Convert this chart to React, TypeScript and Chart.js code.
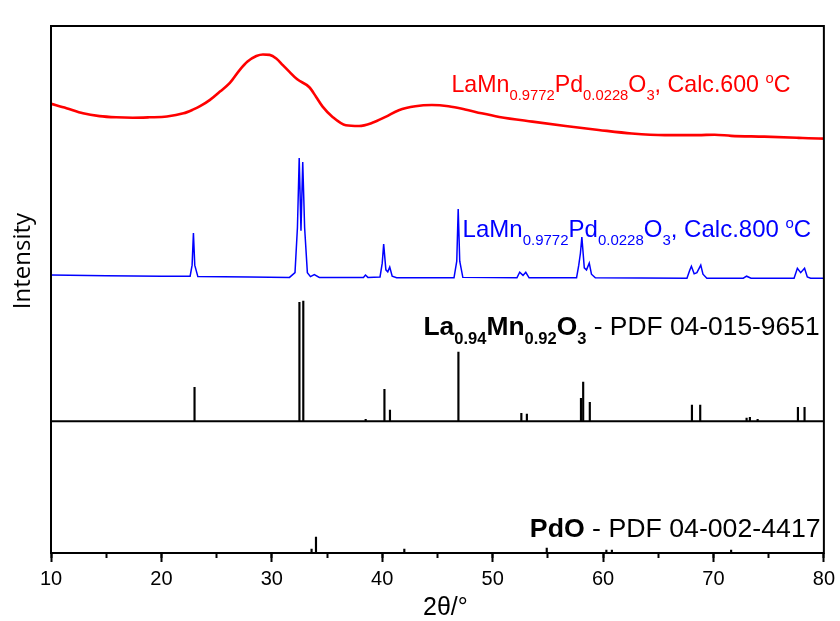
import React, { useEffect, useRef } from 'react';
import { Chart, registerables } from 'chart.js';

Chart.register(...registerables);

// ---------- data (2θ in degrees, intensity in arbitrary units) ----------
const X_MIN = 10;
const X_MAX = 80;

// LaMn0.9772Pd0.0228O3, calcined 600 °C (top panel units)
const calc600: [number, number][] = [
  [10.0, 80.3], [11.4, 79.2], [12.9, 77.9], [14.4, 77.2], [15.9, 76.9], [17.4, 76.8],
  [18.9, 76.9], [20.5, 77.1], [22.0, 77.9], [22.9, 78.9], [23.5, 79.7], [24.4, 81.3],
  [25.3, 83.4], [26.2, 85.6], [27.1, 88.9], [27.8, 91.0], [28.6, 92.4], [29.2, 92.8],
  [29.8, 92.7], [30.4, 91.8], [31.0, 90.1], [31.6, 88.4], [32.3, 86.5], [33.4, 84.5],
  [34.0, 82.1], [34.6, 79.6], [35.5, 77.0], [36.7, 74.9], [37.9, 74.7], [39.1, 75.5],
  [40.3, 77.0], [41.5, 78.7], [43.0, 79.7], [44.5, 80.0], [46.0, 79.7], [47.5, 78.9],
  [49.0, 77.9], [50.6, 77.0], [53.6, 75.8], [56.6, 74.7], [59.6, 73.7], [62.6, 72.8],
  [65.6, 72.4], [68.6, 72.4], [70.1, 72.5], [71.6, 72.2], [74.6, 72.0], [77.7, 71.7],
  [78.6, 71.6], [80.0, 71.5],
];

// LaMn0.9772Pd0.0228O3, calcined 800 °C (top panel units)
const calc800: [number, number][] = [
  [10.0, 37.0], [15.0, 36.8], [20.0, 36.7], [22.6, 36.7], [22.78, 39.5], [22.9, 47.6],
  [23.02, 39.5], [23.3, 36.6], [28.0, 36.5], [31.6, 36.4], [32.1, 37.6], [32.32, 49.0],
  [32.48, 66.6], [32.64, 48.2], [32.8, 65.6], [32.97, 49.0], [33.22, 37.6], [33.5, 36.6],
  [33.85, 37.1], [34.3, 36.4], [38.3, 36.4], [38.48, 37.0], [38.7, 36.4], [39.8, 36.5],
  [40.0, 40.0], [40.13, 44.8], [40.33, 38.3], [40.5, 37.8], [40.68, 39.0], [40.9, 36.7],
  [41.3, 36.3], [46.5, 36.3], [46.75, 40.5], [46.88, 53.7], [47.02, 40.5], [47.3, 36.4],
  [52.2, 36.3], [52.45, 37.7], [52.75, 36.9], [53.0, 37.7], [53.3, 36.3], [57.6, 36.3],
  [57.8, 39.5], [57.95, 42.5], [58.08, 46.6], [58.3, 38.8], [58.5, 38.3], [58.75, 40.0],
  [58.95, 37.2], [59.3, 36.3], [67.6, 36.2], [67.85, 38.2], [68.0, 39.2], [68.25, 37.3],
  [68.5, 37.6], [68.85, 39.5], [69.05, 37.2], [69.4, 36.2], [72.7, 36.2], [73.0, 36.7],
  [73.4, 36.2], [77.3, 36.2], [77.6, 38.7], [77.9, 37.6], [78.25, 38.7], [78.5, 36.5],
  [78.8, 36.2], [80.0, 36.2],
];

// Reference pattern La0.94Mn0.92O3 - PDF 04-015-9651 (top panel units)
const refLaMnPos = [23.0, 32.5, 32.85, 38.5, 40.2, 40.7, 46.9, 52.6, 53.1, 58.0, 58.2, 58.8, 68.05, 68.8, 73.0, 73.3, 74.0, 77.65, 78.25];
const refLaMnInt = [8.6, 30.1, 30.4, 0.5, 8.1, 2.8, 17.5, 2.0, 1.8, 5.8, 9.9, 4.8, 4.1, 4.1, 0.8, 1.0, 0.5, 3.5, 3.5];

// Reference pattern PdO - PDF 04-002-4417 (bottom panel units)
const refPdOPos = [33.6, 34.0, 42.0, 54.9, 60.3, 60.8, 71.6];
const refPdOInt = [3.0, 12.1, 3.0, 3.8, 2.3, 2.3, 2.3];

// ---------- text ----------
type Seg = { t: string; sub?: boolean; sup?: boolean; bold?: boolean };

const label600: Seg[] = [
  { t: 'LaMn' }, { t: '0.9772', sub: true }, { t: 'Pd' }, { t: '0.0228', sub: true },
  { t: 'O' }, { t: '3', sub: true }, { t: ', Calc.600 ' }, { t: 'o', sup: true }, { t: 'C' },
];
const label800: Seg[] = [
  { t: 'LaMn' }, { t: '0.9772', sub: true }, { t: 'Pd' }, { t: '0.0228', sub: true },
  { t: 'O' }, { t: '3', sub: true }, { t: ', Calc.800 ' }, { t: 'o', sup: true }, { t: 'C' },
];
const labelLaMn: Seg[] = [
  { t: 'La', bold: true }, { t: '0.94', sub: true, bold: true }, { t: 'Mn', bold: true },
  { t: '0.92', sub: true, bold: true }, { t: 'O', bold: true }, { t: '3', sub: true, bold: true },
  { t: ' - PDF 04-015-9651' },
];
const labelPdO: Seg[] = [{ t: 'PdO', bold: true }, { t: ' - PDF 04-002-4417' }];

const X_TITLE = '2θ/°';
const Y_TITLE = 'Intensity';

const FONT = '"Liberation Sans", Arial, Helvetica, sans-serif';

type LabelSpec = {
  segs: Seg[]; axis: string; x: number; y: number; color: string;
  size: number; subSize: number; subDy: number; supDy: number;
};

const labelSpecs: LabelSpec[] = [
  { segs: label600, axis: 'y', x: 76.97, y: 83.3, color: '#ff0000', size: 23.2, subSize: 14.8, subDy: 8, supDy: 9 },
  { segs: label800, axis: 'y', x: 78.85, y: 46.5, color: '#0000ff', size: 24, subSize: 15, subDy: 8, supDy: 9 },
  { segs: labelLaMn, axis: 'y', x: 79.61, y: 21.8, color: '#000000', size: 26.4, subSize: 16.5, subDy: 9, supDy: 9 },
  { segs: labelPdO, axis: 'y2', x: 79.7, y: 12.1, color: '#000000', size: 26.7, subSize: 16.5, subDy: 9, supDy: 9 },
];

function drawRich(ctx: CanvasRenderingContext2D, spec: LabelSpec, rightX: number, baseY: number) {
  const fontOf = (s: Seg) =>
    `${s.bold ? 'bold ' : ''}${s.sub || s.sup ? spec.subSize : spec.size}px ${FONT}`;
  let total = 0;
  for (const s of spec.segs) {
    ctx.font = fontOf(s);
    total += ctx.measureText(s.t).width;
  }
  let x = rightX - total;
  ctx.fillStyle = spec.color;
  ctx.textAlign = 'left';
  ctx.textBaseline = 'alphabetic';
  for (const s of spec.segs) {
    ctx.font = fontOf(s);
    const dy = s.sub ? spec.subDy : s.sup ? -spec.supDy : 0;
    ctx.fillText(s.t, x, baseY + dy);
    x += ctx.measureText(s.t).width;
  }
}

const decorPlugin = {
  id: 'decor',
  afterDraw(chart: any) {
    const { ctx, chartArea: a, scales } = chart;
    ctx.save();
    ctx.strokeStyle = '#000';
    ctx.lineWidth = 2;
    ctx.strokeRect(a.left, a.top, a.right - a.left, a.bottom - a.top);
    const yd = scales.y.bottom;
    ctx.beginPath();
    ctx.moveTo(a.left, yd);
    ctx.lineTo(a.right, yd);
    ctx.stroke();

    // y-axis title
    ctx.save();
    ctx.translate(a.left - 28, a.top + 0.446 * (a.bottom - a.top));
    ctx.rotate(-Math.PI / 2);
    ctx.font = '24px "Open Sans", sans-serif';
    ctx.fillStyle = '#000';
    ctx.textAlign = 'center';
    ctx.textBaseline = 'middle';
    ctx.fillText(Y_TITLE, 0, 0);
    ctx.restore();

    // x-axis title
    ctx.font = `25px ${FONT}`;
    ctx.fillStyle = '#000';
    ctx.textAlign = 'center';
    ctx.textBaseline = 'alphabetic';
    ctx.fillText(X_TITLE, (a.left + a.right) / 2 + 8, a.bottom + 62);

    for (const spec of labelSpecs) {
      const px = scales.x.getPixelForValue(spec.x);
      const py = scales[spec.axis].getPixelForValue(spec.y);
      drawRich(ctx, spec, px, py);
    }
    ctx.restore();
  },
};

export default function App() {
  const canvasRef = useRef<HTMLCanvasElement | null>(null);

  useEffect(() => {
    const canvas = canvasRef.current;
    if (!canvas) return;
    const toXY = (arr: [number, number][]) => arr.map(([x, y]) => ({ x, y }));
    const sticks = (pos: number[], ints: number[]) => pos.map((x, i) => ({ x, y: ints[i] }));

    const hiddenY = (stackWeight: number, weight: number) => ({
      type: 'linear' as const,
      position: 'left' as const,
      stack: 'panels',
      stackWeight,
      weight,
      min: 0,
      max: 100,
      display: true,
      ticks: { display: false },
      grid: { display: false },
      border: { display: false },
      afterFit: (s: any) => { s.width = 51; },
    });

    const chart = new Chart(canvas, {
      type: 'line',
      data: {
        datasets: [
          {
            type: 'line',
            label: 'Calc.600',
            data: toXY(calc600),
            xAxisID: 'x',
            yAxisID: 'y',
            borderColor: '#ff0000',
            borderWidth: 2.6,
            pointRadius: 0,
            cubicInterpolationMode: 'monotone',
          },
          {
            type: 'line',
            label: 'Calc.800',
            data: toXY(calc800),
            xAxisID: 'x',
            yAxisID: 'y',
            borderColor: '#0000ff',
            borderWidth: 1.5,
            pointRadius: 0,
            tension: 0,
          },
          {
            type: 'bar',
            label: 'La0.94Mn0.92O3',
            data: sticks(refLaMnPos, refLaMnInt),
            xAxisID: 'x',
            yAxisID: 'y',
            backgroundColor: '#000000',
            borderWidth: 0,
            barThickness: 1.5,
            grouped: false,
          },
          {
            type: 'bar',
            label: 'PdO',
            data: sticks(refPdOPos, refPdOInt),
            xAxisID: 'x',
            yAxisID: 'y2',
            backgroundColor: '#000000',
            borderWidth: 0,
            barThickness: 1.5,
            grouped: false,
          },
        ] as any,
      },
      options: {
        responsive: false,
        animation: false,
        layout: { padding: { top: 26, right: 14, bottom: 0, left: 0 } },
        plugins: { legend: { display: false }, tooltip: { enabled: false } },
        scales: {
          x: {
            type: 'linear',
            position: 'bottom',
            min: X_MIN,
            max: X_MAX,
            offset: false,
            weight: 1,
            border: { display: false },
            grid: {
              display: true,
              offset: false,
              drawOnChartArea: false,
              drawTicks: true,
              tickLength: 9,
              tickWidth: 2,
              tickColor: '#000',
            },
            ticks: {
              stepSize: 10,
              color: '#000',
              font: { family: FONT, size: 20 },
              padding: 5,
              maxRotation: 0,
              autoSkip: false,
            },
            title: { display: false },
            afterFit: (s: any) => { s.height = 68; },
          },
          xMinor: {
            type: 'linear',
            position: 'bottom',
            min: X_MIN,
            max: X_MAX,
            offset: false,
            weight: 0,
            border: { display: false },
            grid: {
              display: true,
              offset: false,
              drawOnChartArea: false,
              drawTicks: true,
              tickLength: 5,
              tickWidth: 2,
              tickColor: '#000',
            },
            ticks: { display: false, stepSize: 5 },
            afterFit: (s: any) => { s.height = 0; },
          },
          y: hiddenY(3, 1),
          y2: hiddenY(1, 0),
        } as any,
      },
      plugins: [decorPlugin],
    });
    return () => chart.destroy();
  }, []);

  return (
    <div style={{ position: 'absolute', left: 0, top: 0, width: 840, height: 621, background: '#fff' }}>
      <canvas ref={canvasRef} width={840} height={621} style={{ display: 'block' }} />
    </div>
  );
}
